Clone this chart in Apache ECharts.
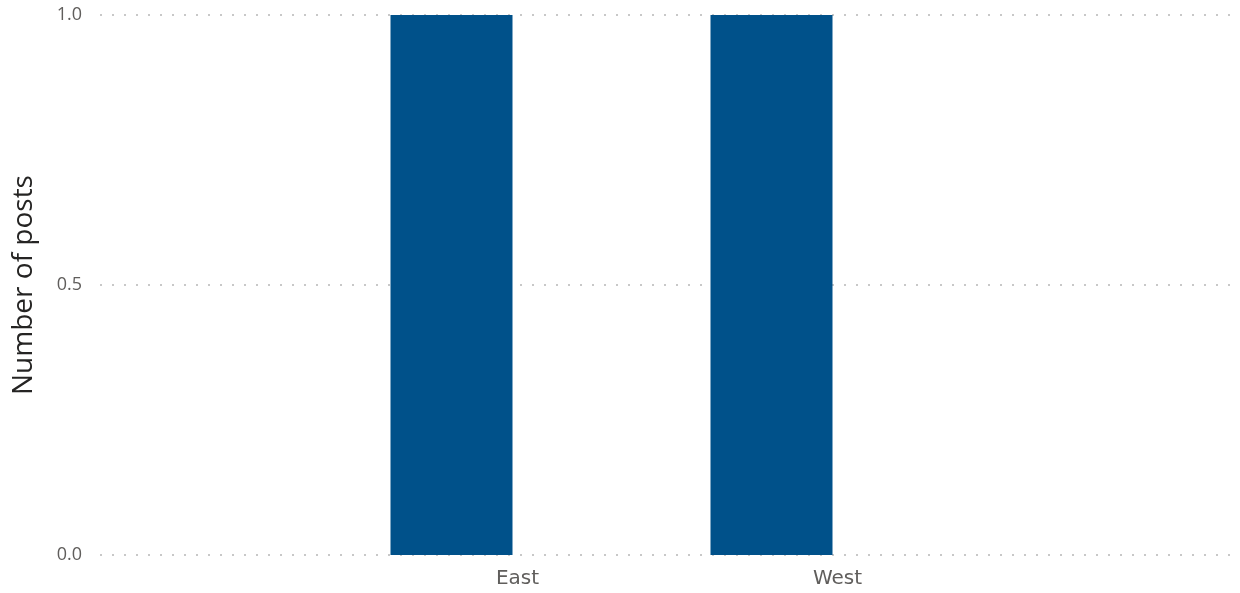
<!DOCTYPE html>
<html>
<head>
<meta charset="utf-8">
<script src="https://cdn.jsdelivr.net/npm/echarts@6/dist/echarts.min.js"></script>
<style>
html,body{margin:0;padding:0;background:#fff;}
#chart{width:1240px;height:593px;}
</style>
</head>
<body>
<div id="chart"></div>
<script>
var categories = ['East', 'West'];
var postsSeries = [1, 1];
var secondSeries = [null, null];
var yTicks = [0, 0.5, 1];

var chart = echarts.init(document.getElementById('chart'));
var tickColor = '#605E5C';
chart.setOption({
  animation: false,
  grid: [
    { left: 100, right: 5, top: 15, bottom: 38 },
    { left: 357.5, right: 242.5, top: 15, bottom: 38 }
  ],
  xAxis: [
    { gridIndex: 0, type: 'category', data: categories, show: false },
    {
      gridIndex: 1, type: 'category', data: categories,
      axisLine: { show: false }, axisTick: { show: false },
      axisLabel: { color: tickColor, fontFamily: '"DejaVu Sans", sans-serif', fontSize: 20, margin: 14 }
    }
  ],
  yAxis: [
    {
      gridIndex: 0, type: 'value', min: yTicks[0], max: yTicks[yTicks.length - 1], interval: 0.5,
      name: 'Number of posts', nameLocation: 'middle', nameGap: 62,
      nameTextStyle: { color: '#252423', fontSize: 28, fontFamily: '"Open Sans", sans-serif' },
      axisLine: { show: false }, axisTick: { show: false },
      axisLabel: { color: tickColor, fontSize: 18, fontFamily: '"Open Sans", sans-serif', margin: 18,
        formatter: function (v) { return v.toFixed(1); } },
      splitLine: { show: true, lineStyle: { color: '#c8c8c8', width: 2, type: [2, 10] } }
    },
    {
      gridIndex: 1, type: 'value', min: yTicks[0], max: yTicks[yTicks.length - 1], interval: 0.5,
      show: false
    }
  ],
  series: [
    { type: 'bar', xAxisIndex: 1, yAxisIndex: 1, data: postsSeries, barWidth: 122, barGap: '8.2%',
      itemStyle: { color: '#00518A' } },
    { type: 'bar', xAxisIndex: 1, yAxisIndex: 1, data: secondSeries, barWidth: 122,
      itemStyle: { color: '#E66C37' } }
  ]
});
</script>
</body>
</html>
